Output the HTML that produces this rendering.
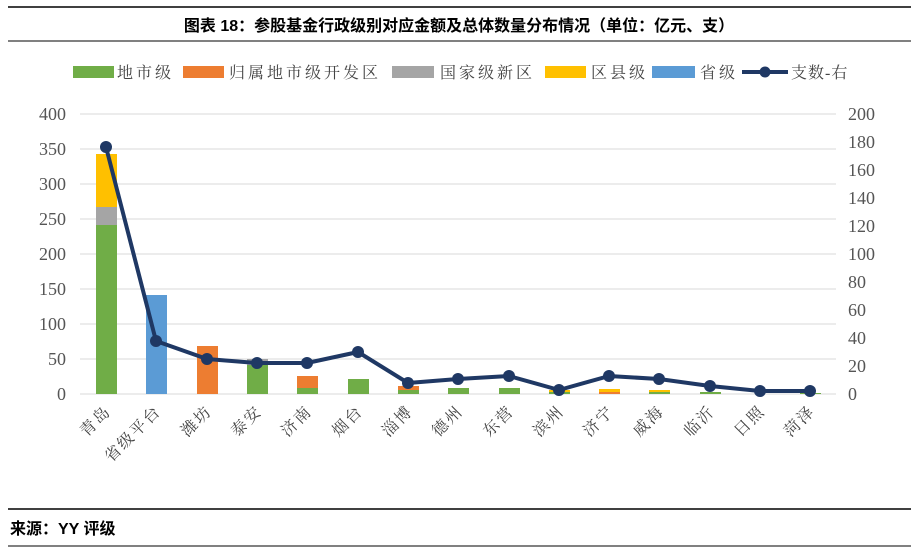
<!DOCTYPE html><html><head><meta charset="utf-8"><style>
body{margin:0;background:#fff;width:919px;height:554px;overflow:hidden}
</style></head><body>
<svg width="919" height="554" xmlns="http://www.w3.org/2000/svg" font-family="Liberation Serif, Noto Serif CJK SC, serif">
<line x1="8" y1="7" x2="911" y2="7" stroke="#000" stroke-width="1.5"/>
<text x="459" y="31" text-anchor="middle" font-size="16" font-weight="bold" fill="#000" font-family="Liberation Sans, Noto Sans CJK SC, sans-serif">图表 18：参股基金行政级别对应金额及总体数量分布情况（单位：亿元、支）</text>
<line x1="8" y1="41" x2="911" y2="41" stroke="#000" stroke-width="1"/>
<g font-size="16" fill="#444" letter-spacing="3">
<rect x="73" y="66" width="41" height="12" fill="#70ad47"/><text x="117" y="78">地市级</text>
<rect x="183" y="66" width="41" height="12" fill="#ed7d31"/><text x="229" y="78">归属地市级开发区</text>
<rect x="392" y="66" width="42" height="12" fill="#a5a5a5"/><text x="440" y="78">国家级新区</text>
<rect x="545" y="66" width="41" height="12" fill="#ffc000"/><text x="591" y="78">区县级</text>
<rect x="652" y="66" width="43" height="12" fill="#5b9bd5"/><text x="700" y="78">省级</text>
<line x1="742" y1="72" x2="788" y2="72" stroke="#1f3864" stroke-width="4"/><circle cx="765" cy="72" r="5.5" fill="#1f3864"/><text x="791" y="78" letter-spacing="1">支数-右</text>
</g>
<g stroke="#d9d9d9" stroke-width="1">
<line x1="80" x2="836" y1="114" y2="114"/><line x1="80" x2="836" y1="149" y2="149"/><line x1="80" x2="836" y1="184" y2="184"/><line x1="80" x2="836" y1="219" y2="219"/><line x1="80" x2="836" y1="254" y2="254"/><line x1="80" x2="836" y1="289" y2="289"/><line x1="80" x2="836" y1="324" y2="324"/><line x1="80" x2="836" y1="359" y2="359"/><line x1="80" x2="836" y1="394" y2="394"/>
</g>
<g font-size="18" fill="#555" text-anchor="end">
<text x="66" y="120">400</text><text x="66" y="155">350</text><text x="66" y="190">300</text><text x="66" y="225">250</text><text x="66" y="260">200</text><text x="66" y="295">150</text><text x="66" y="330">100</text><text x="66" y="365">50</text><text x="66" y="400">0</text>
</g>
<g font-size="18" fill="#555">
<text x="848" y="120">200</text><text x="848" y="148">180</text><text x="848" y="176">160</text><text x="848" y="204">140</text><text x="848" y="232">120</text><text x="848" y="260">100</text><text x="848" y="288">80</text><text x="848" y="316">60</text><text x="848" y="344">40</text><text x="848" y="372">20</text><text x="848" y="400">0</text>
</g>
<g>
<rect x="96" y="225" width="21" height="169" fill="#70ad47"/>
<rect x="96" y="207" width="21" height="18" fill="#a5a5a5"/>
<rect x="96" y="154" width="21" height="53" fill="#ffc000"/>
<rect x="146" y="295" width="21" height="99" fill="#5b9bd5"/>
<rect x="197" y="346" width="21" height="48" fill="#ed7d31"/>
<rect x="247" y="365" width="21" height="29" fill="#70ad47"/>
<rect x="247" y="359" width="21" height="6" fill="#a5a5a5"/>
<rect x="297" y="388" width="21" height="6" fill="#70ad47"/>
<rect x="297" y="376" width="21" height="12" fill="#ed7d31"/>
<rect x="348" y="379" width="21" height="15" fill="#70ad47"/>
<rect x="398" y="390" width="21" height="4" fill="#70ad47"/>
<rect x="398" y="386" width="21" height="4" fill="#ed7d31"/>
<rect x="448" y="388" width="21" height="6" fill="#70ad47"/>
<rect x="499" y="388" width="21" height="6" fill="#70ad47"/>
<rect x="549" y="392" width="21" height="2" fill="#70ad47"/>
<rect x="549" y="390" width="21" height="2" fill="#ffc000"/>
<rect x="599" y="392" width="21" height="2" fill="#ed7d31"/>
<rect x="599" y="389" width="21" height="3" fill="#ffc000"/>
<rect x="649" y="392" width="21" height="2" fill="#70ad47"/>
<rect x="649" y="390" width="21" height="2" fill="#ffc000"/>
<rect x="700" y="392" width="21" height="2" fill="#70ad47"/>
<rect x="800" y="393" width="21" height="1" fill="#70ad47"/>
</g>
<polyline fill="none" stroke="#1f3864" stroke-width="4" stroke-linejoin="round" points="106,147 156,341 207,359 257,363 307,363 358,352 408,383 458,379 509,376 559,390 609,376 659,379 710,386 760,391 810,391"/>
<g fill="#1f3864">
<circle cx="106" cy="147" r="6"/><circle cx="156" cy="341" r="6"/><circle cx="207" cy="359" r="6"/><circle cx="257" cy="363" r="6"/><circle cx="307" cy="363" r="6"/><circle cx="358" cy="352" r="6"/><circle cx="408" cy="383" r="6"/><circle cx="458" cy="379" r="6"/><circle cx="509" cy="376" r="6"/><circle cx="559" cy="390" r="6"/><circle cx="609" cy="376" r="6"/><circle cx="659" cy="379" r="6"/><circle cx="710" cy="386" r="6"/><circle cx="760" cy="391" r="6"/><circle cx="810" cy="391" r="6"/>
</g>
<g font-size="16" fill="#444" text-anchor="end" letter-spacing="2">
<text transform="translate(112,412) rotate(-45)">青岛</text>
<text transform="translate(162,412) rotate(-45)">省级平台</text>
<text transform="translate(213,412) rotate(-45)">潍坊</text>
<text transform="translate(263,412) rotate(-45)">泰安</text>
<text transform="translate(313,412) rotate(-45)">济南</text>
<text transform="translate(364,412) rotate(-45)">烟台</text>
<text transform="translate(414,412) rotate(-45)">淄博</text>
<text transform="translate(464,412) rotate(-45)">德州</text>
<text transform="translate(515,412) rotate(-45)">东营</text>
<text transform="translate(565,412) rotate(-45)">滨州</text>
<text transform="translate(615,412) rotate(-45)">济宁</text>
<text transform="translate(665,412) rotate(-45)">威海</text>
<text transform="translate(716,412) rotate(-45)">临沂</text>
<text transform="translate(766,412) rotate(-45)">日照</text>
<text transform="translate(816,412) rotate(-45)">菏泽</text>
</g>
<line x1="8" y1="509" x2="911" y2="509" stroke="#000" stroke-width="1.5"/>
<text x="10" y="534" font-size="16" font-weight="bold" fill="#000" font-family="Liberation Sans, Noto Sans CJK SC, sans-serif">来源：YY 评级</text>
<line x1="8" y1="546" x2="911" y2="546" stroke="#000" stroke-width="1"/>
</svg>
</body></html>
